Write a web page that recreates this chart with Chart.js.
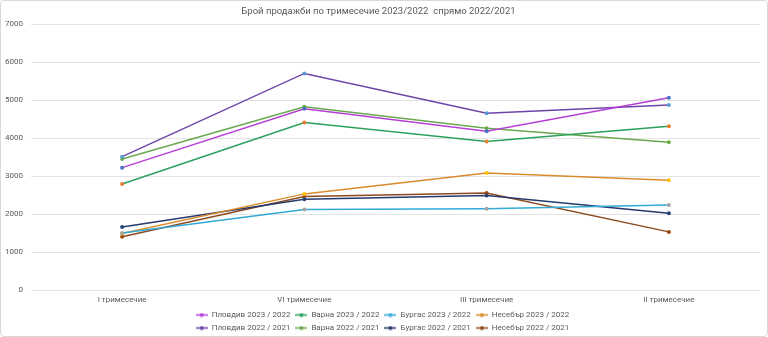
<!DOCTYPE html>
<html>
<head>
<meta charset="utf-8">
<script src="https://cdn.jsdelivr.net/npm/chart.js@4/dist/chart.umd.min.js"></script>
<style>
  html, body { margin: 0; padding: 0; background: #fff; }
  #wrap { width: 768px; height: 337px; box-sizing: border-box; border: 1px solid #d9d9d9; border-radius: 4px; position: relative; }
</style>
</head>
<body>
<div id="wrap"><canvas id="chart"></canvas></div>
<script>
const quarters = ['I тримесечие', 'VI тримесечие', 'III тримесечие', 'II тримесечие'];

const plovdiv23 = [3230, 4780, 4190, 5070];
const varna23 = [2800, 4420, 3920, 4320];
const burgas23 = [1510, 2130, 2150, 2250];
const nesebar23 = [1500, 2540, 3090, 2900];
const plovdiv22 = [3520, 5710, 4660, 4880];
const varna22 = [3460, 4830, 4270, 3900];
const burgas22 = [1670, 2400, 2500, 2030];
const nesebar22 = [1410, 2470, 2560, 1540];

const yTicks = [0, 1000, 2000, 3000, 4000, 5000, 6000, 7000];

const textCol = '#595959';
const font = 'Roboto';

function legendMark(color) {
  const c = document.createElement('canvas');
  c.width = 12; c.height = 5;
  const g = c.getContext('2d');
  g.strokeStyle = color;
  g.lineWidth = 1.5;
  g.beginPath(); g.moveTo(0, 2.5); g.lineTo(12, 2.5); g.stroke();
  g.fillStyle = color;
  g.beginPath(); g.arc(6, 2.5, 2, 0, Math.PI * 2); g.fill();
  return c;
}

function ds(label, data, line, mark) {
  return {
    label: label,
    data: data,
    borderColor: line,
    backgroundColor: line,
    pointBackgroundColor: mark,
    pointBorderColor: mark,
    pointRadius: 2,
    pointBorderWidth: 0,
    borderWidth: 1.5,
    tension: 0,
    fill: false,
    legendMark: legendMark(line),
  };
}

// legend: 4 items per row, centred in a narrower band, fixed height
const LEG_W = 400;
const legendWrap = {
  id: 'legendWrap',
  afterInit(chart) {
    const lg = chart.legend;
    const fr = lg._fitRows;
    lg._fitRows = function (...a) {
      const m = this.maxWidth;
      this.maxWidth = LEG_W;
      const r = fr.apply(this, a);
      this.maxWidth = m;
      return r;
    };
    const ft = lg.fit;
    lg.fit = function () {
      ft.call(this);
      this.height = 26;
    };
    const dr = lg._draw;
    lg._draw = function () {
      const l = this.left, r = this.right, t = this.top, c = (l + r) / 2;
      this.left = c - LEG_W / 2 + 4;
      this.right = c + LEG_W / 2 + 4;
      this.top = t - 4;
      dr.call(this);
      this.left = l; this.right = r; this.top = t;
    };
  },
};

const ctx = document.getElementById('chart').getContext('2d');
new Chart(ctx, {
  type: 'line',
  data: {
    labels: quarters,
    datasets: [
      ds('Пловдив 2023 / 2022', plovdiv23, '#b53fd6', '#4472c4'),
      ds('Варна 2023 / 2022', varna23, '#2ca05a', '#ed7d31'),
      ds('Бургас 2023 / 2022', burgas23, '#33a9d6', '#a5a5a5'),
      ds('Несебър 2023 / 2022', nesebar23, '#d98b2b', '#ffc000'),
      ds('Пловдив 2022 / 2021', plovdiv22, '#6d45a8', '#5b9bd5'),
      ds('Варна 2022 / 2021', varna22, '#6aa84f', '#70ad47'),
      ds('Бургас 2022 / 2021', burgas22, '#263a6b', '#264478'),
      ds('Несебър 2022 / 2021', nesebar22, '#8b4a1f', '#9e480e'),
    ],
  },
  options: {
    responsive: true,
    maintainAspectRatio: false,
    animation: false,
    layout: { padding: { left: -4, right: 7, top: 0, bottom: 0 } },
    plugins: {
      title: {
        display: true,
        text: 'Брой продажби по тримесечие 2023/2022  спрямо 2022/2021',
        color: textCol,
        font: { family: font, size: 9.5, weight: 'normal' },
        padding: { top: 5, bottom: 7 },
      },
      legend: {
        position: 'bottom',
        labels: {
          color: textCol,
          font: { family: font, size: 8 },
          usePointStyle: true,
          pointStyleWidth: 12,
          boxHeight: 5,
          padding: 5,
          generateLabels: (chart) =>
            Chart.defaults.plugins.legend.labels.generateLabels(chart).map((it) => {
              it.pointStyle = chart.data.datasets[it.datasetIndex].legendMark;
              return it;
            }),
        },
      },
      tooltip: { enabled: false },
    },
    scales: {
      x: {
        offset: true,
        grid: { display: false, drawTicks: false },
        border: { display: false },
        ticks: { color: textCol, font: { family: font, size: 8 }, padding: 5, maxRotation: 0 },
      },
      y: {
        min: yTicks[0],
        max: yTicks[yTicks.length - 1],
        afterBuildTicks: (s) => { s.ticks = yTicks.map((v) => ({ value: v })); },
        grid: { color: '#e3e3e3', drawTicks: false },
        border: { display: false },
        ticks: { color: textCol, font: { family: font, size: 8 }, padding: 8, callback: (v) => String(v) },
      },
    },
  },
  plugins: [legendWrap],
});
</script>
</body>
</html>
